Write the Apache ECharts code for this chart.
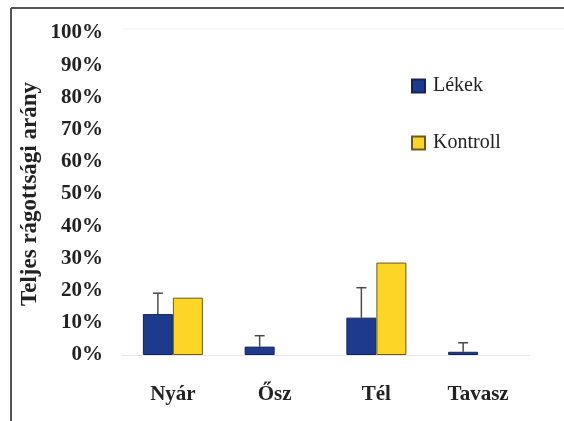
<!DOCTYPE html>
<html><head><meta charset="utf-8">
<script src="https://cdn.jsdelivr.net/npm/echarts@6/dist/echarts.min.js"></script>
<style>html,body{margin:0;padding:0;background:#fff}#c{width:564px;height:421px}</style>
</head><body><div id="c"></div>
<script>
const categories = ['Nyár', 'Ősz', 'Tél', 'Tavasz'];
const lekek = [12.7, 2.6, 11.6, 1.0];
const lekekErr = [19.2, 6.0, 20.9, 3.8];
const kontroll = [17.8, 0, 28.7, 0];
const yTicks = [0, 10, 20, 30, 40, 50, 60, 70, 80, 90, 100];

const chart = echarts.init(document.getElementById('c'));
const BW = 30;
const serif = '"Liberation Serif", "DejaVu Serif", serif';
chart.setOption({
  animation: false,
  grid: { left: 122, right: 35, top: 33, bottom: 66 },
  graphic: [
    { type: 'line', shape: { x1: 11, y1: 8, x2: 564, y2: 8 }, style: { stroke: '#555', lineWidth: 2 } },
    { type: 'line', shape: { x1: 11, y1: 8, x2: 11, y2: 421 }, style: { stroke: '#555', lineWidth: 2 } },
    { type: 'line', shape: { x1: 123, y1: 29, x2: 564, y2: 29 }, style: { stroke: '#f2f2f2', lineWidth: 1 } }
  ],
  legend: {
    orient: 'vertical', left: 406, top: 71, itemGap: 37,
    itemWidth: 13, itemHeight: 13, icon: 'rect',
    textStyle: { fontFamily: serif, fontSize: 20, color: '#222', padding: [0, 0, 0, 3] },
    data: ['Lékek', 'Kontroll']
  },
  xAxis: {
    type: 'category', data: categories,
    axisLine: { lineStyle: { color: '#e6e6e6' } },
    axisTick: { show: false },
    axisLabel: { margin: 29, fontFamily: serif, fontWeight: 'bold', fontSize: 21, color: '#222' }
  },
  yAxis: {
    type: 'value', min: 0, max: 100, interval: 10,
    name: 'Teljes rágottsági arány', nameLocation: 'middle', nameGap: 80, nameMoveOverlap: false,
    nameTextStyle: { fontFamily: serif, fontWeight: 'bold', fontSize: 23, color: '#222' },
    axisLine: { show: false }, axisTick: { show: false }, splitLine: { show: false },
    axisLabel: { margin: 19, fontFamily: serif, fontWeight: 'bold', fontSize: 21, color: '#222',
      formatter: v => (yTicks.indexOf(v) >= 0 ? v + '%' : '') }
  },
  series: [
    { name: 'Lékek', type: 'bar', data: lekek, barWidth: BW, barGap: '0%',
      itemStyle: { color: '#1e3a8c', borderColor: '#13235a', borderWidth: 1 } },
    { name: 'Kontroll', type: 'bar', barWidth: BW, barGap: '0%',
      data: kontroll.map(v => (v === 0 ? { value: v, itemStyle: { borderWidth: 0 } } : v)),
      itemStyle: { color: '#fdd526', borderColor: '#6b5a1e', borderWidth: 1 } },
    { name: 'err', type: 'custom', z: 1,
      data: categories.map((c, i) => [i, lekek[i], lekekErr[i]]),
      renderItem: function (params, api) {
        const top = api.coord([api.value(0), api.value(2)]);
        const base = api.coord([api.value(0), api.value(1)]);
        const x = top[0] - BW / 2;
        return { type: 'group', children: [
          { type: 'line', shape: { x1: x, y1: base[1], x2: x, y2: top[1] }, style: { stroke: '#4a4a4a', lineWidth: 1.5 } },
          { type: 'line', shape: { x1: x - 5, y1: top[1], x2: x + 5, y2: top[1] }, style: { stroke: '#4a4a4a', lineWidth: 1.5 } }
        ]};
      }
    }
  ]
});
</script></body></html>
